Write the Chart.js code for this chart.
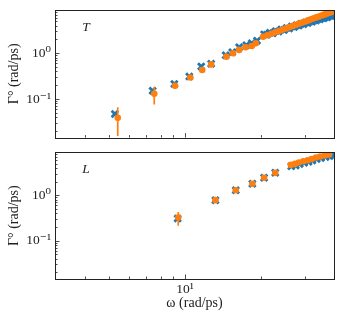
<!DOCTYPE html>
<html lang="en">
<head>
  <meta charset="UTF-8">
  <title>Gamma vs omega</title>
  <script src="https://cdn.jsdelivr.net/npm/chart.js"></script>
  <style>
    body { margin: 0; background: #fff; }
    #wrap { position: relative; width: 345px; height: 320px; }
    canvas { position: absolute; left: 0; }
    #topChart { top: 0; }
    #botChart { top: 145px; }
  </style>
</head>
<body>
  <div id="wrap">
    <canvas id="topChart" width="345" height="145"></canvas>
    <canvas id="botChart" width="345" height="175"></canvas>
  </div>

  <script>
    // --- T panel: blue crosses (simulation) ---
    const tOmegaSim = [5.27, 7.44, 9.07, 10.4, 11.6, 12.7, 14.5, 15.4, 16.4, 17.5, 18.4, 19.3,
      20.6, 21.1, 21.7, 22.3, 22.9, 23.5, 24.1, 24.7, 25.3, 25.9, 26.5, 27.1, 27.7, 28.3, 28.9,
      29.5, 30.1, 30.7, 31.3, 31.9, 32.5, 33.1, 33.7, 34.3, 34.9, 35.5, 36.1, 36.7, 37.3, 37.9,
      38.5, 39.1];
    const tGammaSim = [0.047, 0.151, 0.212, 0.31, 0.51, 0.585, 0.9, 1.05, 1.35, 1.5, 1.65, 1.88,
      2.58, 2.52, 2.79, 2.74, 3.04, 2.98, 3.30, 3.22, 3.55, 3.48, 3.82, 3.74, 4.10, 4.02, 4.38,
      4.30, 4.68, 4.58, 4.98, 4.88, 5.28, 5.18, 5.58, 5.50, 5.90, 5.82, 6.22, 6.14, 6.55, 6.48,
      6.88, 6.82];
    // --- T panel: orange dots with error bars ---
    const tOmegaFit = [5.41, 7.55, 9.13, 10.5, 11.7, 12.7, 14.6, 15.5, 16.4, 17.4, 18.4, 19.1,
      20.4, 21.2, 22.0, 22.8, 23.6, 24.4, 25.2, 26.0, 26.8, 27.6, 28.4, 29.2, 30.0, 30.8, 31.6,
      32.4, 33.2, 34.0, 34.8, 35.6, 36.4, 37.2, 38.0, 38.8];
    const tGammaFit = [0.0386, 0.130, 0.195, 0.295, 0.43, 0.57, 0.84, 1.0, 1.18, 1.35, 1.44, 1.65,
      2.29, 2.47, 2.66, 2.86, 3.06, 3.28, 3.49, 3.72, 3.95, 4.19, 4.44, 4.69, 4.95, 5.22, 5.49,
      5.78, 6.07, 6.36, 6.66, 6.97, 7.29, 7.61, 7.95, 8.28];
    const tErrLow  = [0.0155, 0.076, 0.165, 0.27];
    const tErrHigh = [0.066, 0.185, 0.225, 0.32];

    // --- L panel ---
    const lOmegaSim = [9.35, 13.2, 15.9, 18.5, 20.6, 22.8, 26.4, 27.5, 28.5, 29.7, 30.9, 32.0,
      33.3, 34.6, 36.1, 37.5, 38.6];
    const lGammaSim = [0.308, 0.78, 1.29, 1.80, 2.43, 3.12, 4.35, 4.55, 4.90, 5.20, 5.50, 5.85,
      6.30, 6.60, 7.00, 7.35, 7.60];
    const lOmegaFit = [9.40, 13.2, 15.9, 18.5, 20.6, 22.8, 26.3, 27.3, 28.3, 29.5, 30.7, 31.8,
      33.1, 34.4, 35.9, 37.3];
    const lGammaFit = [0.324, 0.78, 1.29, 1.80, 2.43, 3.12, 4.67, 4.91, 5.27, 5.62, 5.92, 6.31,
      6.77, 7.13, 7.50, 7.90];
    const lErrLow  = [0.213];
    const lErrHigh = [0.43];

    const xMin = 3.05, xMax = 39;
    const yMin = 0.0143, yMax = 8.8;

    const BLUE = '#1f77b4', ORANGE = '#ff7f0e';
    const SERIF = "'Liberation Serif', 'DejaVu Serif', serif";
    const SUP = { '-': '\u207b', '0': '\u2070', '1': '\u00b9', '2': '\u00b2', '3': '\u00b3' };

    function pow10Label(v) {
      const e = Math.round(Math.log10(v));
      return '10' + String(e).split('').map(c => SUP[c]).join('');
    }

    function pts(xs, ys) {
      return xs.map((x, i) => ({ x: x, y: ys[i] }));
    }

    // inward ticks, frame, error bars and panel letter
    const decor = {
      id: 'decor',
      beforeDatasetDraw(chart, args, opts) {
        if (args.index !== 0) return;
        const { ctx, chartArea: a, scales: { x, y } } = chart;
        ctx.save();
        ctx.beginPath();
        ctx.rect(a.left, a.top, a.right - a.left, a.bottom - a.top);
        ctx.clip();
        ctx.strokeStyle = ORANGE;
        ctx.lineWidth = 1.7;
        opts.errLow.forEach((lo, i) => {
          const px = x.getPixelForValue(opts.errX[i]);
          ctx.beginPath();
          ctx.moveTo(px, y.getPixelForValue(lo));
          ctx.lineTo(px, y.getPixelForValue(opts.errHigh[i]));
          ctx.stroke();
        });
        ctx.restore();
      },
      afterDraw(chart, args, opts) {
        const { ctx, chartArea: a, scales: { x, y } } = chart;
        ctx.save();
        ctx.strokeStyle = '#222';
        ctx.lineWidth = 0.8;
        for (let k = -3; k <= 2; k++) {
          for (let m = 1; m <= 9; m++) {
            const v = m * Math.pow(10, k);
            const len = m === 1 ? 4.5 : 2.5;
            if (v >= xMin && v <= xMax) {
              const px = Math.round(x.getPixelForValue(v)) + 0.5;
              ctx.beginPath();
              ctx.moveTo(px, a.bottom);
              ctx.lineTo(px, a.bottom - len);
              ctx.stroke();
            }
            if (v >= yMin && v <= yMax) {
              const py = Math.round(y.getPixelForValue(v)) + 0.5;
              ctx.beginPath();
              ctx.moveTo(a.left, py);
              ctx.lineTo(a.left + len, py);
              ctx.stroke();
            }
          }
        }
        ctx.lineWidth = 1;
        ctx.strokeRect(Math.round(a.left) + 0.5, Math.round(a.top) + 0.5,
          Math.round(a.right - a.left), Math.round(a.bottom - a.top));
        ctx.fillStyle = '#222';
        ctx.font = 'italic 13.5px ' + SERIF;
        ctx.textAlign = 'center';
        ctx.textBaseline = 'middle';
        ctx.fillText(opts.letter, a.left + 31, a.top + 17);
        ctx.restore();
      }
    };

    function makeChart(id, simX, simY, fitX, fitY, errLo, errHi, letter, showX, top, xHeight) {
      return new Chart(document.getElementById(id), {
        type: 'scatter',
        data: {
          datasets: [
            {
              label: 'fit',
              data: pts(fitX, fitY),
              pointStyle: 'circle',
              pointRadius: 3.3,
              backgroundColor: ORANGE,
              borderColor: ORANGE,
              borderWidth: 0
            },
            {
              label: 'sim',
              data: pts(simX, simY),
              pointStyle: 'crossRot',
              pointRadius: 4.6,
              borderColor: BLUE,
              backgroundColor: BLUE,
              borderWidth: 2.8
            }
          ]
        },
        options: {
          responsive: false,
          animation: false,
          events: [],
          layout: { padding: { top: top, right: 11, left: 0, bottom: 0 } },
          plugins: {
            legend: { display: false },
            tooltip: { enabled: false },
            decor: { letter: letter, errX: fitX, errLow: errLo, errHigh: errHi }
          },
          scales: {
            x: {
              type: 'logarithmic',
              min: xMin,
              max: xMax,
              grid: { display: false, drawTicks: false },
              border: { display: false },
              afterBuildTicks: s => { s.ticks = [{ value: 10 }]; },
              afterFit: s => { s.height = xHeight; s.paddingLeft = 0; s.paddingRight = 0; },
              ticks: {
                display: showX,
                padding: 2,
                color: '#222',
                font: { family: SERIF, size: 13.5 },
                callback: v => pow10Label(v)
              },
              title: {
                display: showX,
                text: '\u03c9 (rad/ps)',
                color: '#222',
                font: { family: SERIF, size: 14 },
                padding: { top: 0, bottom: 8 }
              }
            },
            y: {
              type: 'logarithmic',
              min: yMin,
              max: yMax,
              grid: { display: false, drawTicks: false },
              border: { display: false },
              afterBuildTicks: s => { s.ticks = [{ value: 0.1 }, { value: 1 }]; },
              afterFit: s => { s.width = 55; s.paddingTop = 0; s.paddingBottom = 0; },
              ticks: {
                padding: 4,
                color: '#222',
                font: { family: SERIF, size: 13.5 },
                callback: v => pow10Label(v)
              },
              title: {
                display: true,
                text: '\u0393\u00b0 (rad/ps)',
                color: '#222',
                font: { family: SERIF, size: 14 },
                padding: { top: 6, bottom: 0 }
              }
            }
          }
        },
        plugins: [decor]
      });
    }

    makeChart('topChart', tOmegaSim, tGammaSim, tOmegaFit, tGammaFit, tErrLow, tErrHigh, 'T', false, 10, 7);
    makeChart('botChart', lOmegaSim, lGammaSim, lOmegaFit, lGammaFit, lErrLow, lErrHigh, 'L', true, 6, 41);
  </script>
</body>
</html>
